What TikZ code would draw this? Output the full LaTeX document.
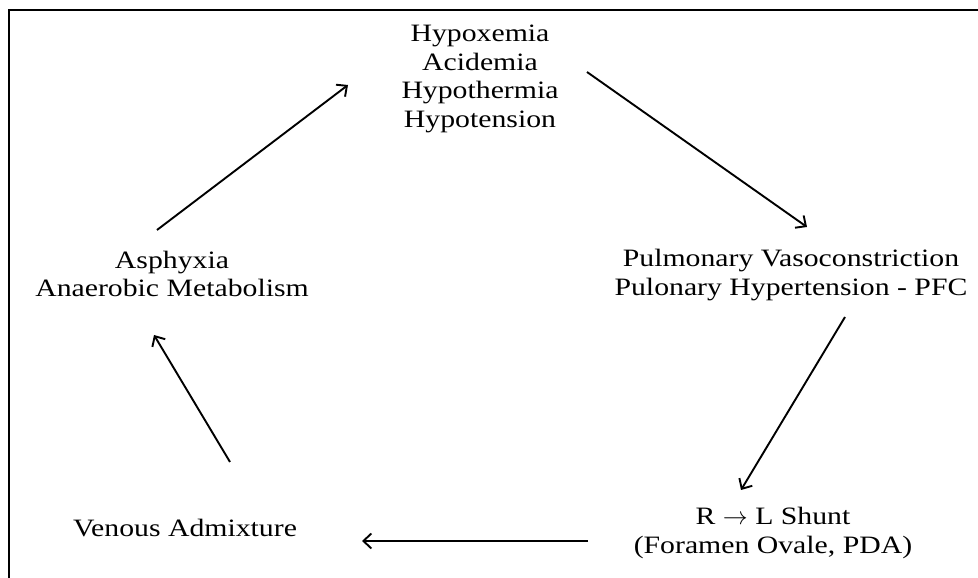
\documentclass[tikz,border=0pt]{standalone}
\usepackage{fontspec}
\setmainfont{Liberation Serif}[FakeStretch=1.19]
\usetikzlibrary{arrows.meta}

\begin{document}
\begin{tikzpicture}[x=1pt,y=1pt,>={Straight Barb[length=8pt,width=15pt]},
    stage/.style={align=center,inner sep=0pt,font=\fontsize{25}{28.5}\selectfont},
    cyc/.style={->,line width=1.9pt}]

    \useasboundingbox (0,0) rectangle (978,578);
    \draw[line width=2.2pt] (978,568) -- (9,568) -- (9,0);

    \node[stage] (hypox) at (480,499) {Hypoxemia\\Acidemia\\Hypothermia\\Hypotension};
    \node[stage] (pvc) at (791,303) {Pulmonary Vasoconstriction\\Pulonary Hypertension - PFC};
    \node[stage] (shunt) at (773,45) {R $\rightarrow$ L Shunt\\(Foramen Ovale, PDA)};
    \node[stage] (venous) at (185,49.5) {Venous Admixture};
    \node[stage] (asph) at (172,304) {Asphyxia\\Anaerobic Metabolism};

    % the vicious circle
    \draw[cyc] ([shift={(107,7)}]hypox.center) -- ([shift={(16,48)}]pvc.center);
    \draw[cyc] ([shift={(54,-42)}]pvc.center) -- ([shift={(-32,43)}]shunt.center);
    \draw[cyc] ([shift={(-185,-8)}]shunt.center) -- ([shift={(177,-12.5)}]venous.center);
    \draw[cyc] ([shift={(45,66.5)}]venous.center) -- ([shift={(-18,-61)}]asph.center);
    \draw[cyc] ([shift={(-15,44)}]asph.center) -- ([shift={(-132,-6)}]hypox.center);
\end{tikzpicture}
\end{document}
